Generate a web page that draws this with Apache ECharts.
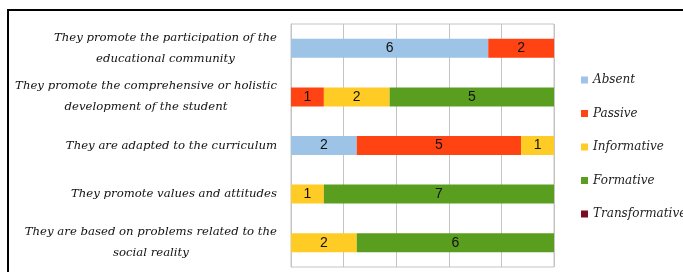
<!DOCTYPE html>
<html><head><meta charset="utf-8">
<script src="https://cdn.jsdelivr.net/npm/echarts@6/dist/echarts.min.js"></script>
<style>html,body{margin:0;padding:0;background:#fff}#c{width:683px;height:272px}</style>
</head><body><div id="c"></div>
<script>
const categories = [
  ["They promote the participation of the", "educational community"],
  ["They promote the comprehensive or holistic", "development of the student"],
  ["They are adapted to the curriculum"],
  ["They promote values and attitudes"],
  ["They are based on problems related to the", "social reality"]
];
const seriesNames = ["Absent", "Passive", "Informative", "Formative", "Transformative"];
const absent = [6, 0, 2, 0, 0];
const passive = [2, 1, 5, 0, 0];
const informative = [0, 2, 1, 1, 2];
const formative = [0, 5, 0, 7, 6];
const transformative = [0, 0, 0, 0, 0];
const colors = ["#9DC3E6", "#FF4312", "#FFCC26", "#5A9E1F", "#7A0B22"];
const values = [absent, passive, informative, formative, transformative];

const chart = echarts.init(document.getElementById('c'), null, {renderer: 'canvas'});
const catLabels = categories.map(lines => lines.map(l => '{c|' + l + '}').join('\n'));

chart.setOption({
  animation: false,
  grid: {left: 291, top: 24, right: 129, bottom: 5, show: true, borderColor: '#c4c4c4', borderWidth: 1, containLabel: false},
  legend: {
    orient: 'vertical', left: 576, top: 68, itemWidth: 7, itemHeight: 7, itemGap: 19.5,
    icon: 'rect', itemStyle: {borderWidth: 0},
    textStyle: {fontFamily: 'DejaVu Serif', fontStyle: 'italic', fontSize: 12, color: '#222', lineHeight: 14},
    data: seriesNames
  },
  xAxis: {
    type: 'value', min: 0, max: 8, interval: 1.6,
    axisLabel: {show: false}, axisTick: {show: false}, axisLine: {show: false},
    splitLine: {lineStyle: {color: '#c4c4c4', width: 1}}
  },
  yAxis: {
    type: 'category', inverse: true, data: catLabels,
    axisTick: {show: false},
    axisLine: {lineStyle: {color: '#c4c4c4'}},
    axisLabel: {
      margin: 14, align: 'right', color: '#111',
      rich: {c: {align: 'center', fontFamily: 'DejaVu Serif', fontStyle: 'italic', fontSize: 11.7, lineHeight: 21, color: '#111'}}
    }
  },
  series: seriesNames.map((n, i) => ({
    name: n, type: 'bar', stack: 'total', barWidth: 19,
    itemStyle: {color: colors[i]},
    label: {
      show: true, position: 'inside', color: '#111',
      fontFamily: "'Liberation Sans Narrow', 'Liberation Sans', sans-serif", fontSize: 14,
      formatter: p => p.value ? String(p.value) : ''
    },
    data: values[i]
  })),
  graphic: [
    {type: 'line', shape: {x1: 7, y1: 10, x2: 683, y2: 10}, style: {stroke: '#000', lineWidth: 2}},
    {type: 'line', shape: {x1: 8, y1: 9, x2: 8, y2: 272}, style: {stroke: '#000', lineWidth: 2}}
  ]
});
</script></body></html>
